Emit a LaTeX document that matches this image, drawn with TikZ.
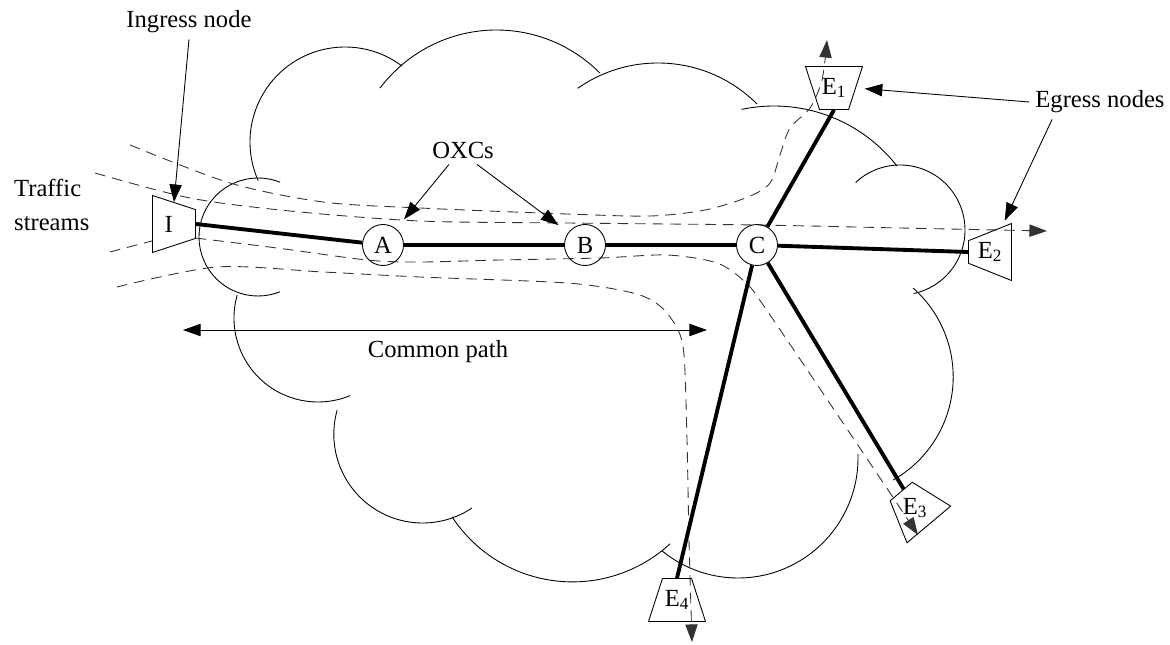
\documentclass[tikz,border=0pt]{standalone}
\usepackage{fontspec}
\setmainfont{Liberation Serif}
\usetikzlibrary{shapes.geometric,arrows.meta}

\begin{document}
\begin{tikzpicture}[x=0.02cm,y=0.02cm,
  font=\fontsize{14}{19}\selectfont,
  puff/.style={line width=0.5pt},
  stream/.style={line width=0.5pt,black!80,dash pattern=on 6pt off 4pt},
  link/.style={line width=2.2pt},
  pointer/.style={line width=0.5pt,-{Triangle[length=10pt,width=7pt]}},
  span/.style={line width=0.5pt,{Triangle[length=10pt,width=7pt]}-{Triangle[length=10pt,width=7pt]}},
  oxc/.style={circle,draw,line width=0.5pt,inner sep=0pt,minimum size=0.82cm},
  term/.style={trapezium,draw,line width=0.5pt,trapezium angle=55,inner sep=0pt,
    minimum width=1.14cm,minimum height=0.86cm,trapezium stretches body=true}]

\useasboundingbox (0,0) rectangle (1170,-645);

\foreach \cx/\cy/\r/\a/\b in {258/237/59/68/292, 345/142/95/53/204,
    496.5/175.8/145.8/44.8/143, 658/203/140/45/125, 774/262/156/38/102,
    900/230/65/133/-78, 834.7/376.9/118.5/48.6/-60.5, 738/458/120/2/-129.4,
    572.5/437.9/144/-47.4/-146.7, 422.6/434.2/88.8/-56.2/-195.7, 318/318/84/164/292.5}
  \draw[puff] ([shift={(\a:\r)}]\cx,-\cy) arc[start angle=\a,end angle=\b,radius=\r];

\draw[stream,-{Triangle[length=10pt,width=7pt]}] plot[smooth] coordinates {(130,-145) (230,-183) (323,-202) (420,-208) (567,-214) (650,-216) (705,-210) (748,-197) (770,-183) (780,-155) (790,-128) (810,-108) (822,-80) (827,-40)};
\draw[stream,-{Triangle[length=10pt,width=7pt]}] plot[smooth] coordinates {(95,-173) (190,-198) (290,-211) (420,-221) (567,-223) (757,-225) (900,-228) (1047,-231)};
\draw[stream,-{Triangle[length=10pt,width=7pt]}] plot[smooth] coordinates {(110,-252) (152,-241) (174,-236) (195,-238) (277,-248) (367,-260) (420,-262) (500,-260) (600,-258) (667,-255) (717,-263) (745,-282) (768,-312) (880,-478) (918,-535)};
\draw[stream,-{Triangle[length=10pt,width=7pt]}] plot[smooth] coordinates {(117,-287) (217,-267) (323,-272) (420,-277) (567,-283) (633,-293) (660,-306) (677,-328) (684,-355) (687,-440) (689,-540) (692,-642)};

\node[term,rotate=-90,fill=white] (I) at (174,-224) {\phantom{E\textsubscript{3}}};
\node (Il) at ([xshift=-3pt]I.center) {I};
\node[oxc] (A) at (383,-245) {A};
\node[oxc] (B) at (585,-245) {B};
\node[oxc] (C) at (757,-245) {C};
\node[term,shape border rotate=180] (E1) at (834,-88) {E\textsubscript{1}};
\node[term,shape border rotate=90] (E2) at (990,-252) {E\textsubscript{2}};
\node[term,rotate=40] (E3) at (915,-508) {\phantom{E\textsubscript{3}}};
\node (E3l) at (E3) {E\textsubscript{3}};
\node[term] (E4) at (677,-600) {E\textsubscript{4}};

\draw[link] (I.north) -- (A);
\draw[link] (A) -- (B);
\draw[link] (B) -- (C);
\draw[link] (C) -- (E1.south);
\draw[link] (C) -- (E2.west);
\draw[link] (C) -- (E3);
\draw[link] (C) -- (E4.north);

\node (ingress) at (189,-22) {Ingress node};
\node[align=left,anchor=west] (traffic) at (8,-205) {Traffic\\streams};
\node (oxcs) at (463,-150) {OXCs};
\node (egress) at (1100,-102) {Egress nodes};
\node (common) at (438,-352) {Common path};

\draw[pointer] (ingress.south) -- (I.west);
\draw[pointer,shorten >=7pt] ([xshift=-8pt]oxcs.south) -- (A);
\draw[pointer,shorten >=7pt] ([xshift=8pt]oxcs.south) -- (B);
\draw[pointer,shorten >=5pt] (egress.west) -- (E1.east);
\draw[pointer,shorten >=4pt] ([xshift=13pt]egress.south west) -- (E2);

\coordinate (cpl) at (183,-330);
\coordinate (cpr) at (707,-330);
\draw[span] (cpl) -- (cpr);
\end{tikzpicture}
\end{document}
